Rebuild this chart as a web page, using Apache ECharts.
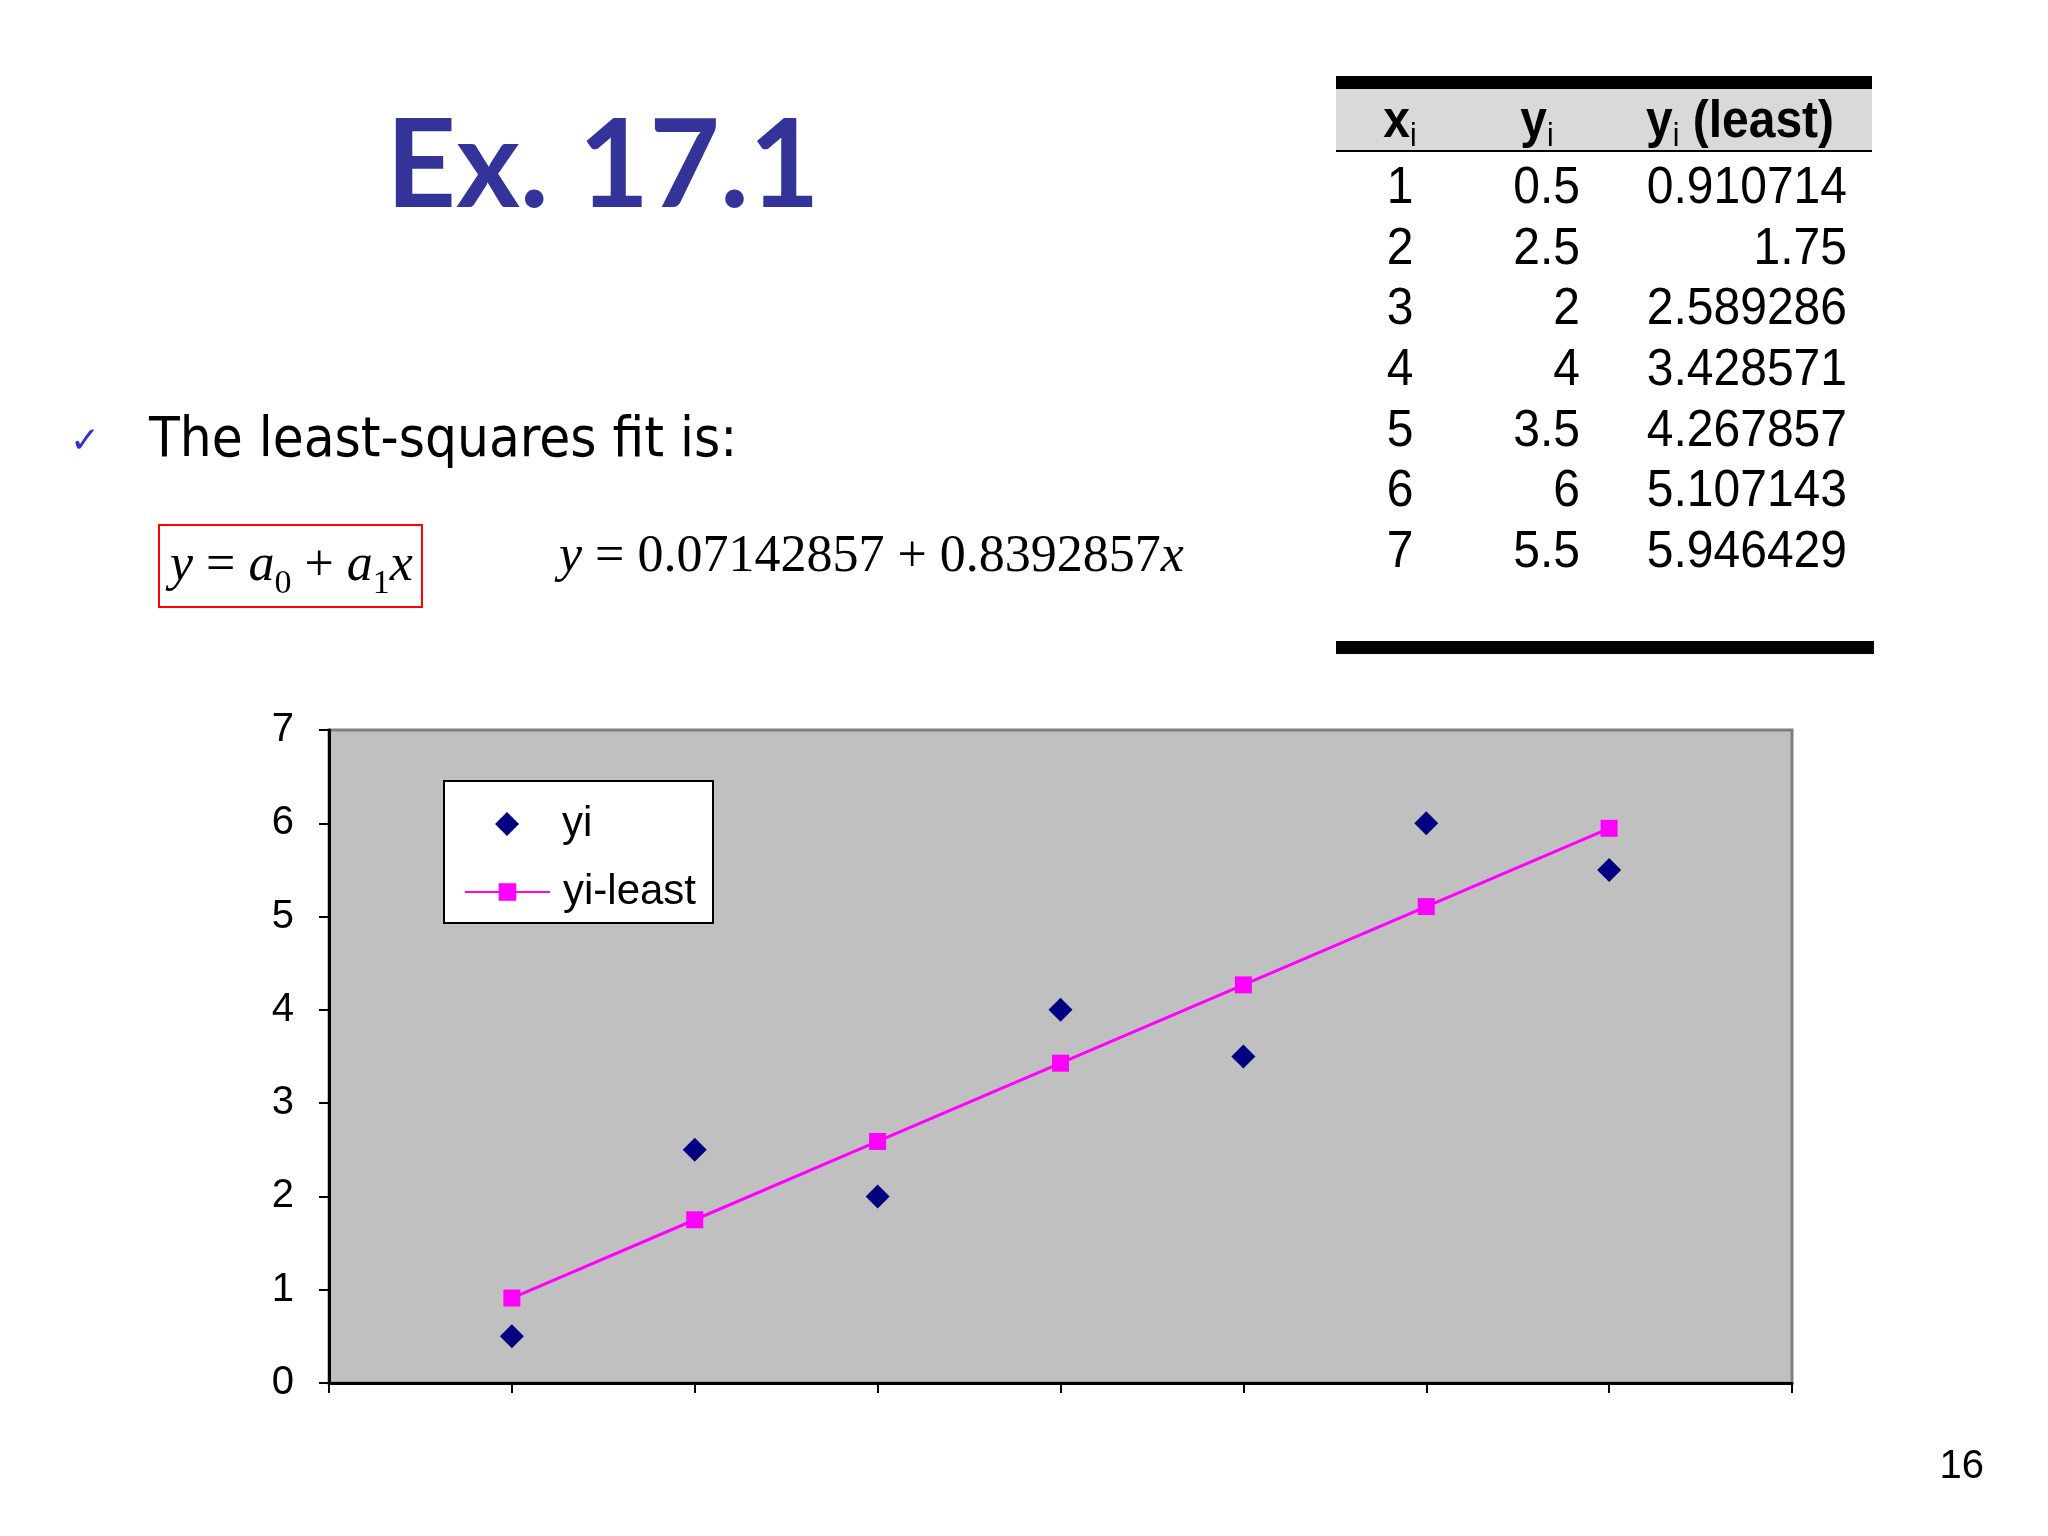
<!DOCTYPE html>
<html>
<head>
<meta charset="utf-8">
<title>Ex. 17.1</title>
<script src="https://cdn.jsdelivr.net/npm/echarts@6/dist/echarts.min.js"></script>
<style>
  html, body { margin: 0; padding: 0; background: #fff; }
  #main { width: 2048px; height: 1536px; }
</style>
</head>
<body>
<div id="main"></div>
<script>
// data
var xs = [1, 2, 3, 4, 5, 6, 7];
var yi = [0.5, 2.5, 2, 4, 3.5, 6, 5.5];
var yiLeast = [0.910714, 1.75, 2.589286, 3.428571, 4.267857, 5.107143, 5.946429];
var seriesNames = ['yi', 'yi-least'];
var yTicks = [0, 1, 2, 3, 4, 5, 6, 7];

var SANS = "'Liberation Sans', Arial, sans-serif";
var SERIF = "'Liberation Serif', 'Times New Roman', serif";

document.addEventListener('DOMContentLoaded', function () {
    var chart = echarts.init(document.getElementById('main'));

    // table cells, one text per cell
    var table = [];
    var rowTop = 189, rowStep = 60.6;
    var cellFont = { fontFamily: SANS, fontSize: 48, fill: '#000', verticalAlign: 'middle' };
    xs.forEach(function (x, i) {
        var y = rowTop + i * rowStep;
        table.push({ type: 'text', x: 1400, y: y, scaleY: 1.08, style: Object.assign({ text: String(x), align: 'center' }, cellFont) });
        table.push({ type: 'text', x: 1580, y: y, scaleY: 1.08, style: Object.assign({ text: String(yi[i]), align: 'right' }, cellFont) });
        table.push({ type: 'text', x: 1847, y: y, scaleY: 1.08, style: Object.assign({ text: String(yiLeast[i]), align: 'right' }, cellFont) });
    });

    var headRich = {
        b: { fontFamily: SANS, fontSize: 48, fontWeight: 'bold', color: '#000', lineHeight: 56 },
        s: { fontFamily: SANS, fontSize: 30, color: '#000', lineHeight: 30, verticalAlign: 'bottom' }
    };
    var mathRich = {
        i: { fontFamily: SERIF, fontSize: 52, fontStyle: 'italic', color: '#000', lineHeight: 70 },
        o: { fontFamily: SERIF, fontSize: 52, color: '#000', lineHeight: 70 },
        s: { fontFamily: SERIF, fontSize: 34, color: '#000', lineHeight: 34, verticalAlign: 'bottom' }
    };
    var legendText = { fontSize: 42, color: '#000', fontFamily: SANS, lineHeight: 44 };

    var option = {
        backgroundColor: '#fff',
        animation: false,
        grid: {
            left: 329, right: 256, top: 730, bottom: 153,
            show: true,
            backgroundColor: '#C0C0C0',
            borderColor: '#808080',
            borderWidth: 3
        },
        xAxis: {
            type: 'value',
            min: 0, max: 8, interval: 1,
            axisLine: { show: true, onZero: false, lineStyle: { color: '#000', width: 3 } },
            axisTick: { show: true, length: 10, lineStyle: { color: '#000', width: 2 } },
            axisLabel: { show: false },
            splitLine: { show: false }
        },
        yAxis: {
            type: 'value',
            min: yTicks[0], max: yTicks[yTicks.length - 1], interval: 1,
            axisLine: { show: true, onZero: false, lineStyle: { color: '#000', width: 3 } },
            axisTick: { show: true, length: 10, lineStyle: { color: '#000', width: 2 } },
            axisLabel: { color: '#000', fontSize: 40, fontFamily: SANS, margin: 35 },
            splitLine: { show: false }
        },
        // two legends so the diamond keeps its shape and the line icon stays long
        legend: [
            {
                left: 495, top: 802, padding: 0, z: 20,
                itemWidth: 24, itemHeight: 24,
                textStyle: Object.assign({ padding: [0, 0, 0, 38] }, legendText),
                data: [{ name: seriesNames[0], icon: 'diamond' }]
            },
            {
                left: 464, top: 870, padding: 0, z: 20,
                itemWidth: 85, itemHeight: 22,
                textStyle: Object.assign({ padding: [0, 0, 0, 8] }, legendText),
                data: [seriesNames[1]]
            }
        ],
        series: [
            {
                name: seriesNames[0],
                type: 'scatter',
                symbol: 'diamond',
                symbolSize: 24,
                itemStyle: { color: '#000080', opacity: 1 },
                data: xs.map(function (x, i) { return [x, yi[i]]; }),
                z: 3
            },
            {
                name: seriesNames[1],
                type: 'line',
                symbol: 'rect',
                symbolSize: 17,
                showAllSymbol: true,
                itemStyle: { color: '#FF00FF' },
                lineStyle: { color: '#FF00FF', width: 3 },
                data: xs.map(function (x, i) { return [x, yiLeast[i]]; }),
                z: 2
            }
        ],
        graphic: [
            // legend box
            {
                type: 'rect', z: 10,
                shape: { x: 444, y: 781, width: 269, height: 142 },
                style: { fill: '#fff', stroke: '#000', lineWidth: 2 }
            },
            {
                type: 'text', x: 386, y: 168,
                style: {
                    text: 'Ex. 17.1',
                    fontFamily: "'Comic Sans MS', 'Lato', sans-serif",
                    fontWeight: 'bold',
                    fontSize: 122, fill: '#333399', verticalAlign: 'middle'
                }
            },
            {
                type: 'text', x: 85, y: 443,
                style: { text: '\u2713', fontFamily: "'DejaVu Sans'", fontSize: 36, fill: '#3333CC', align: 'center', verticalAlign: 'middle' }
            },
            {
                type: 'text', x: 149, y: 441,
                style: {
                    text: 'The least-squares fit is:',
                    fontFamily: "Tahoma, 'DejaVu Sans Condensed', sans-serif",
                    fontSize: 56, fill: '#000', verticalAlign: 'middle'
                }
            },
            {
                type: 'rect',
                shape: { x: 159, y: 525, width: 263, height: 82 },
                style: { fill: 'none', stroke: '#FF0000', lineWidth: 2 }
            },
            {
                type: 'text', x: 170, y: 566,
                style: {
                    text: '{i|y}{o| = }{i|a}{s|0}{o| + }{i|a}{s|1}{i|x}',
                    rich: mathRich, verticalAlign: 'middle'
                }
            },
            {
                type: 'text', x: 559, y: 557,
                style: {
                    text: '{i|y}{o| = 0.07142857 + 0.8392857}{i|x}',
                    rich: mathRich, verticalAlign: 'middle'
                }
            },
            // table frame
            { type: 'rect', shape: { x: 1336, y: 76, width: 536, height: 13 }, style: { fill: '#000' } },
            { type: 'rect', shape: { x: 1336, y: 89, width: 536, height: 61 }, style: { fill: '#D9D9D9' } },
            { type: 'rect', shape: { x: 1336, y: 150, width: 536, height: 2 }, style: { fill: '#000' } },
            { type: 'rect', shape: { x: 1336, y: 641, width: 538, height: 13 }, style: { fill: '#000' } },
            { type: 'text', x: 1400, y: 123, scaleY: 1.08, style: { text: '{b|x}{s|i}', rich: headRich, align: 'center', verticalAlign: 'middle' } },
            { type: 'text', x: 1537, y: 123, scaleY: 1.08, style: { text: '{b|y}{s|i}', rich: headRich, align: 'center', verticalAlign: 'middle' } },
            { type: 'text', x: 1646, y: 123, scaleY: 1.08, style: { text: '{b|y}{s|i}{b| (least)}', rich: headRich, verticalAlign: 'middle' } },
            {
                type: 'text', x: 1984, y: 1467,
                style: { text: '16', fontFamily: SANS, fontSize: 40, fill: '#000', align: 'right', verticalAlign: 'middle' }
            }
        ].concat(table)
    };

    chart.setOption(option);
    window.addEventListener('resize', function () {
        chart.resize();
    });
});
</script>
</body>
</html>
